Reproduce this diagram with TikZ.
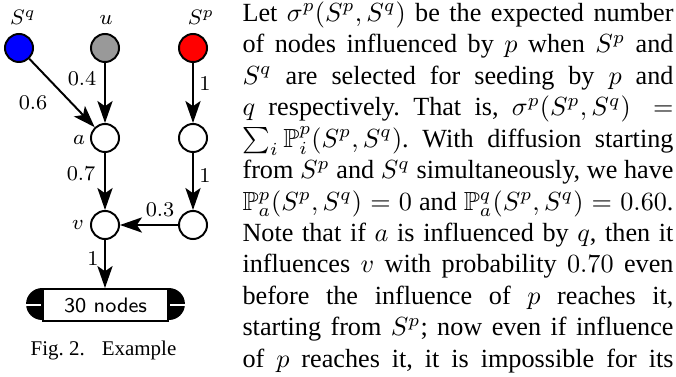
\documentclass[tikz,border=0pt]{standalone}
\usepackage{amsmath,amssymb}
\usepackage[no-math]{fontspec}
\setmainfont{Liberation Serif}
\usetikzlibrary{arrows.meta}

\begin{document}
\begin{tikzpicture}[
  x=0.3817pt, y=-0.3817pt,
  font=\fontsize{8}{9.6}\selectfont,
  seed/.style={circle, draw, line width=0.75pt, minimum size=10.7pt, inner sep=0pt},
  plain/.style={seed, fill=white},
  lbl/.style={anchor=base, inner sep=0pt},
  ar/.style={-{Stealth[length=8.4pt, width=5.8pt, inset=2pt]}, line width=0.75pt},
  crowdbox/.style={draw, line width=0.75pt, fill=white, minimum width=47.7pt,
                   minimum height=12.2pt, inner sep=0pt, font=\fontsize{8}{9.6}\sffamily},
  endcap/.style={fill=black},
  para/.style={anchor=north west, inner sep=0pt, text width=164.5pt, align=justify,
               font=\fontsize{10}{12}\selectfont}
]
\useasboundingbox (0,0) rectangle (676,377);

% seeds and graph nodes
\node[seed, fill=blue]     (sq) at (19,48)  {};
\node[seed, fill=black!40] (u)  at (105,48) {};
\node[seed, fill=red]      (sp) at (193,48) {};
\node[plain] (a)  at (105,138) {};
\node[plain] (pa) at (193,138) {};
\node[plain] (v)  at (105,225) {};
\node[plain] (pb) at (193,225) {};
\node[crowdbox] (crowd) at (105.5,305) {30 nodes};
\fill[endcap] (crowd.north west) arc[start angle=90, end angle=270, radius=6.1pt] -- cycle;
\fill[endcap] (crowd.north east) arc[start angle=90, end angle=-90, radius=6.1pt] -- cycle;
\draw[white, line width=0.6pt] ([xshift=-0.4pt]crowd.west) -- ++(-16,0);
\draw[white, line width=0.6pt] ([xshift=0.4pt]crowd.east) -- ++(16,0);

% node labels
\node[lbl] (lsq) at (23,25)  {$S^q$};
\node[lbl] (lu)  at (106,25) {$u$};
\node[lbl] (lsp) at (201,25) {$S^p$};
\node[lbl] (la)  at (79,145) {$a$};
\node[lbl] (lv)  at (78,230) {$v$};

% edges
\draw[ar] (sq) -- (a);
\draw[ar] (u)  -- (a);
\draw[ar] (a)  -- (v);
\draw[ar] (sp) -- (pa);
\draw[ar] (pa) -- (pb);
\draw[ar] (pb) -- (v);
\draw[ar] (v)  -- (v |- crowd.north);

% edge weights
\node[lbl] (w06) at (33,110)  {$0.6$};
\node[lbl] (w04) at (82,86)   {$0.4$};
\node[lbl] (w1a) at (205,91)  {$1$};
\node[lbl] (w07) at (81,181)  {$0.7$};
\node[lbl] (w1b) at (205,183) {$1$};
\node[lbl] (w03) at (160,217) {$0.3$};
\node[lbl] (w1c) at (93,265)  {$1$};

\node[lbl, font=\fontsize{8}{9.6}\selectfont] (caption) at (103.5,355) {Fig.~2.\hspace{6.5pt}Example};

% wrapped text
\node[para] (body) at (242,0) {\frenchspacing\parfillskip=0pt\noindent\vrule height 8pt width 0pt\relax Let $\sigma^p(S^p,S^q)$ be the expected number\linebreak
of nodes influenced by $p$ when $S^p$ and\linebreak
$S^q$ are selected for seeding by $p$ and\linebreak
$q$ respectively. That is, $\sigma^p(S^p,S^q)=$\linebreak
$\sum_i\mathbb{P}^p_i(S^p,S^q)$. With diffusion starting\linebreak
from $S^p$ and $S^q$ simultaneously, we have\linebreak
$\mathbb{P}^p_a(S^p,S^q)=0$ and $\mathbb{P}^q_a(S^p,S^q)=0.60$.\linebreak
Note that if $a$ is influenced by $q$, then it\linebreak
influences $v$ with probability $0.70$ even\linebreak
before the influence of $p$ reaches it,\linebreak
starting from $S^p$; now even if influence\linebreak
of $p$ reaches it, it is impossible for its\par};
\end{tikzpicture}
\end{document}
